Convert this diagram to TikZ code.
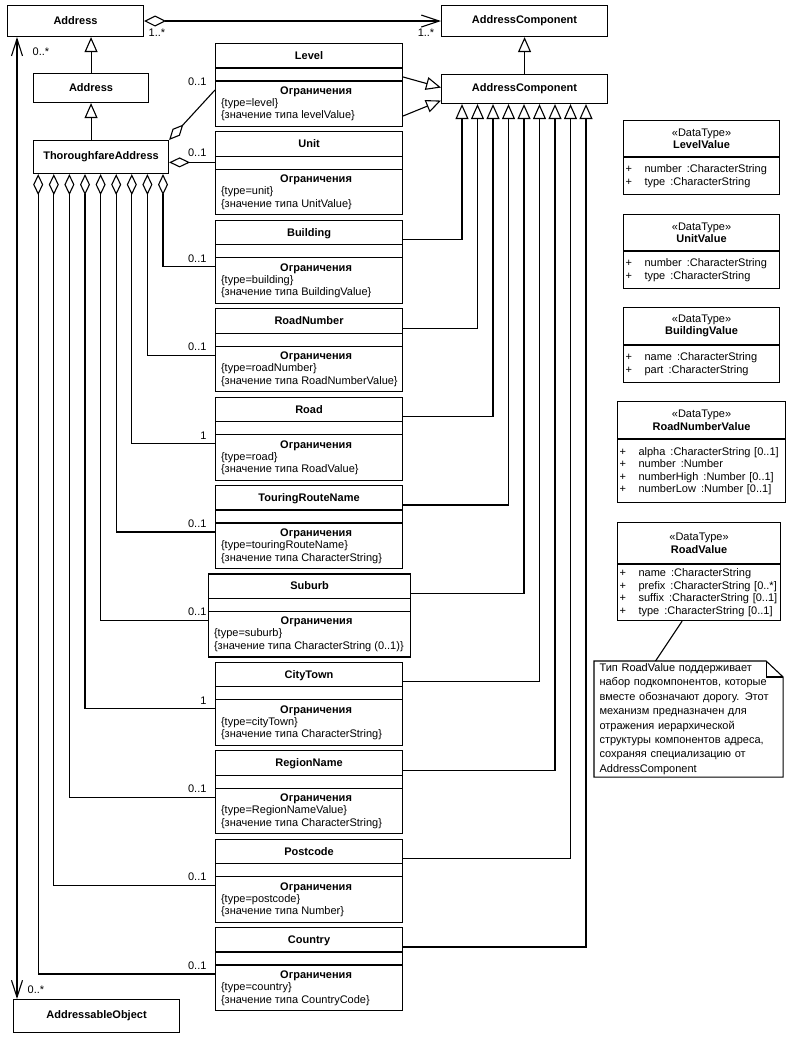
\documentclass[tikz,border=0pt]{standalone}
\usepackage{fontspec}
\setmainfont{Liberation Sans}
\usetikzlibrary{arrows.meta}

\newcommand{\compbox}[7]{%
\node[cbox, minimum width=#4, anchor=north west] (#1) at (#2,#3) {};
\node[ctitle] (#1-t) at ([yshift=-16.5]#1.north) {#5};
\draw ([yshift=-25]#1.north west) -- ([yshift=-25]#1.north east);
\draw ([yshift=-38]#1.north west) -- ([yshift=-38]#1.north east);
\node[ctitle] (#1-o) at ([xshift=7,yshift=-51.5]#1.north) {Ограничения};
\node[cline] (#1-c1) at ([xshift=5.5,yshift=-63.5]#1.north west) {#6};
\node[cline] (#1-c2) at ([xshift=5.5,yshift=-76]#1.north west) {#7};
\coordinate (#1-l) at ([yshift=-47]#1.north west);
\coordinate (#1-r) at ([yshift=-20]#1.north east);
}
\newcommand{\attr}[2]{\makebox[19pt][l]{+}#1\hspace{5pt}:#2}

\begin{document}
\begin{tikzpicture}[x=1pt, y=-1pt, line width=1.1pt,
every node/.style={font=\fontsize{11}{12.5}\selectfont},
cls/.style={draw, inner sep=0, font=\fontsize{11}{12.5}\selectfont\bfseries},
cbox/.style={draw, inner sep=0, minimum height=83},
ctitle/.style={anchor=base, inner sep=0, font=\fontsize{11}{12.5}\selectfont\bfseries},
cline/.style={anchor=base west, inner sep=0},
dthead/.style={draw, inner sep=0, align=center},
dtattr/.style={draw, inner xsep=2, inner ysep=0, align=left},
mult/.style={inner sep=0, anchor=south east, xshift=-8pt, yshift=4pt},
gen/.style={-{Triangle[open,length=15pt,width=13pt]}},
agg/.style={{Diamond[open,length=21pt,width=10pt]}-},
nav/.style={-{Straight Barb[length=17pt,width=11pt]}}]
\useasboundingbox (0,0) rectangle (791,1040);

\node[cls, minimum width=136, minimum height=31, anchor=north west] (a1) at (7,5) {Address};
\node[cls, minimum width=115, minimum height=29, anchor=north west] (a2) at (33,73) {Address};
\node[cls, minimum width=135, minimum height=33, anchor=north west] (ta) at (33,140) {ThoroughfareAddress};
\node[cls, minimum width=166, minimum height=31, anchor=north west] (ac1) at (441,5) {AddressComponent};
\node[cls, minimum width=166, minimum height=29, anchor=north west] (ac2) at (441,74) {AddressComponent};
\node[cls, minimum width=166, minimum height=33, anchor=north west] (ao) at (13,999) {AddressableObject};

\compbox{lvl}{215}{43}{187}{Level}{\{type=level\}}{\{значение типа levelValue\}}
\compbox{unit}{215}{131.4}{187}{Unit}{\{type=unit\}}{\{значение типа UnitValue\}}
\compbox{bld}{215}{219.8}{187}{Building}{\{type=building\}}{\{значение типа BuildingValue\}}
\compbox{rnum}{215}{308.2}{187}{RoadNumber}{\{type=roadNumber\}}{\{значение типа RoadNumberValue\}}
\compbox{road}{215}{396.6}{187}{Road}{\{type=road\}}{\{значение типа RoadValue\}}
\compbox{trn}{215}{485}{187}{TouringRouteName}{\{type=touringRouteName\}}{\{значение типа CharacterString\}}
\compbox{sub}{208}{573.4}{202}{Suburb}{\{type=suburb\}}{\{значение типа CharacterString (0..1)\}}
\compbox{city}{215}{661.8}{187}{CityTown}{\{type=cityTown\}}{\{значение типа CharacterString\}}
\compbox{reg}{215}{750.2}{187}{RegionName}{\{type=RegionNameValue\}}{\{значение типа CharacterString\}}
\compbox{post}{215}{838.6}{187}{Postcode}{\{type=postcode\}}{\{значение типа Number\}}
\compbox{ctry}{215}{927}{187}{Country}{\{type=country\}}{\{значение типа CountryCode\}}
\coordinate (unit-l) at ([yshift=-31]unit.north west);

\node[dthead, minimum width=156, minimum height=36, anchor=north west] (lv) at (623,120) {«DataType»\\\textbf{LevelValue}};
\node[dtattr, text width=152, minimum height=37, anchor=north west] (lv-a) at (lv.south west) {\attr{number}{CharacterString}\\\attr{type}{CharacterString}};
\node[dthead, minimum width=156, minimum height=36, anchor=north west] (uv) at (623,214) {«DataType»\\\textbf{UnitValue}};
\node[dtattr, text width=152, minimum height=37, anchor=north west] (uv-a) at (uv.south west) {\attr{number}{CharacterString}\\\attr{type}{CharacterString}};
\node[dthead, minimum width=156, minimum height=37, anchor=north west] (bv) at (623,307) {«DataType»\\\textbf{BuildingValue}};
\node[dtattr, text width=152, minimum height=37, anchor=north west] (bv-a) at (bv.south west) {\attr{name}{CharacterString}\\\attr{part}{CharacterString}};
\node[dthead, minimum width=168, minimum height=37, anchor=north west] (rnv) at (617,401) {«DataType»\\\textbf{RoadNumberValue}};
\node[dtattr, text width=164, minimum height=63, anchor=north west] (rnv-a) at (rnv.south west) {\attr{alpha}{CharacterString [0..1]}\\\attr{number}{Number}\\\attr{numberHigh}{Number [0..1]}\\\attr{numberLow}{Number [0..1]}};
\node[dthead, minimum width=163, minimum height=41, anchor=north west] (rv) at (617,522) {«DataType»\\\textbf{RoadValue}};
\node[dtattr, text width=159, minimum height=56, anchor=north west] (rv-a) at (rv.south west) {\attr{name}{CharacterString}\\\attr{prefix}{CharacterString [0..*]}\\\attr{suffix}{CharacterString [0..1]}\\\attr{type}{CharacterString [0..1]}};

\node[inner xsep=5, inner ysep=0, text width=178, minimum height=115, align=left, anchor=north west, font=\fontsize{11}{14.4}\selectfont] (note) at (594,661) {Тип RoadValue поддерживает\\набор подкомпонентов, которые\\вместе обозначают дорогу. Этот\\механизм предназначен для\\отражения иерархической\\структуры компонентов адреса,\\сохраняя специализацию от\\AddressComponent};
\draw (note.north west) -- ([xshift=-17]note.north east) -- ([yshift=-16]note.north east) -- (note.south east) -- (note.south west) -- cycle;
\draw ([xshift=-17]note.north east) |- ([yshift=-16]note.north east);
\draw ([xshift=-17]rv-a.south) -- ([xshift=-33]note.north);

% associations
\draw[{Diamond[open,length=22pt,width=11pt]}-{Straight Barb[length=18pt,width=12pt]}] (a1.east) -- (ac1.west);
\node[inner sep=0] (m-a1) at (157,33) {1..*};
\node[inner sep=0] (m-ac1) at (426,33) {1..*};
\coordinate (ao-up) at ([xshift=10]a1.south west);
\draw[{Straight Barb[length=17pt,width=11pt]}-{Straight Barb[length=17pt,width=11pt]}] (ao-up) -- (ao-up |- ao.north);
\node[inner sep=0] (m-a1b) at (41,52) {0..*};
\node[inner sep=0] (m-ao) at (36,990) {0..*};

% generalizations
\draw[gen] (a2.north) -- (a2.north |- a1.south);
\draw[gen] (a2.south |- ta.north) -- (a2.south);
\draw[gen] (ac2.north) -- (ac1.south);
\draw[gen] ([yshift=-34]lvl.north east) -- ([yshift=1.5]ac2.west);
\draw[gen] ([yshift=-73]lvl.north east) -- ([yshift=-11.5]ac2.west);

\draw[agg] (ta.north east) -- (lvl-l) node[mult, pos=1] {0..1};
\draw[agg] (ta.east |- unit-l) -- (unit-l) node[mult, pos=1, yshift=1pt] {0..1};
\foreach \n/\m [count=\i from 0] in {bld/0..1,rnum/0..1,road/1,trn/0..1,sub/0..1,city/1,reg/0..1,post/0..1,ctry/0..1} {
\draw[agg] ([xshift={130-15.6*\i}]ta.south west) |- (\n-l);
\node[mult] (m-\n) at (lvl.west |- \n-l) {\m};
\draw[gen] (\n-r) -| ([xshift={21+15.5*\i}]ac2.south west);
}
\end{tikzpicture}
\end{document}
